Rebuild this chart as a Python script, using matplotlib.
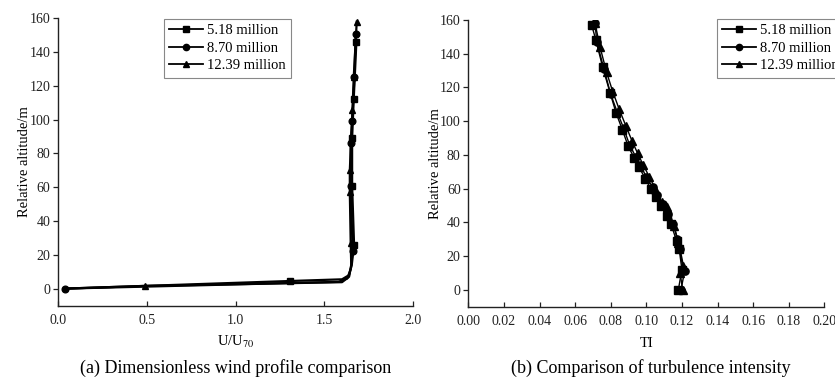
import matplotlib
matplotlib.use("Agg")
import matplotlib.pyplot as plt

plt.rcParams['font.family'] = ['Liberation Serif', 'DejaVu Serif']
plt.rcParams['mathtext.fontset'] = 'stix'

series_names = ["5.18 million", "8.70 million", "12.39 million"]
markers = ["s", "o", "^"]

# (a) Dimensionless wind profile: U/U70 vs relative altitude
u_sq = [0.04, 1.306, 1.60, 1.64, 1.655, 1.668, 1.657, 1.657, 1.666, 1.681]
z_sq = [0, 4.5, 5.5, 8, 14, 26, 61, 89, 112, 146]
mk_sq = [1, 5, 6, 7, 8, 9]

u_ci = [0.041, 1.58, 1.63, 1.65, 1.660, 1.649, 1.649, 1.657, 1.670, 1.677]
z_ci = [0, 4.0, 6, 12, 22, 61, 86, 99, 125, 151]
mk_ci = [0, 4, 5, 6, 7, 8, 9]

u_tr = [0.04, 0.49, 1.60, 1.64, 1.652, 1.649, 1.644, 1.644, 1.659, 1.666, 1.683]
z_tr = [0, 1.6, 3.8, 7, 14, 27, 57, 70, 106, 125, 158]
mk_tr = [1, 5, 6, 7, 8, 9, 10]

# (b) Turbulence intensity vs relative altitude
ti_sq = [0.0693, 0.0717, 0.0755, 0.0796, 0.0830, 0.0865, 0.0899, 0.0933, 0.0959, 0.0993,
         0.1026, 0.1052, 0.1082, 0.1114, 0.1139, 0.1170, 0.1185, 0.1200, 0.1180]
tz_sq = [157, 148, 132, 117, 105, 95, 85, 78, 73, 66, 60, 55, 50, 44, 39, 29, 24, 12, 0]

ti_ci = [0.0712, 0.0722, 0.0762, 0.0800, 0.0838, 0.0872, 0.0906, 0.0940, 0.0966, 0.1000,
         0.1035, 0.1062, 0.1092, 0.1124, 0.1150, 0.1175, 0.1190, 0.1215, 0.1195]
tz_ci = [158, 147, 131, 116, 105, 96, 86, 79, 74, 67, 61, 56, 51, 45, 39, 30, 24, 11, 0]

ti_tr = [0.0712, 0.0740, 0.0777, 0.0810, 0.0848, 0.0886, 0.0921, 0.0951, 0.0983, 0.1017,
         0.1050, 0.1086, 0.1118, 0.1157, 0.1180, 0.1204, 0.1190, 0.1204]
tz_tr = [158, 144, 129, 118, 107, 97, 88, 81, 74, 67, 60, 52, 49, 38, 28, 14, 10, 0]

fig = plt.figure(figsize=(8.35, 3.81), dpi=100)
W, H = 835, 381

def make_ax(l, r, t, b):
    return fig.add_axes([l / W, 1 - b / H, (r - l) / W, (b - t) / H])

ax1 = make_ax(58, 413, 18.3, 305.5)
ax2 = make_ax(468.3, 824.3, 20, 306.7)

tick_fs = 10
lab_fs = 10.5
leg_fs = 10.5
cap_fs = 13

for ax in (ax1, ax2):
    for s in ("top", "right"):
        ax.spines[s].set_visible(False)
    for s in ("left", "bottom"):
        ax.spines[s].set_linewidth(1.0)
        ax.spines[s].set_color("#222222")
    ax.tick_params(axis="y", direction="out", length=3.5, width=0.9, labelsize=tick_fs, colors="#222222", pad=2)
    ax.tick_params(axis="x", direction="in", length=3.5, width=0.9, labelsize=tick_fs, colors="#222222", pad=6)
    ax.set_ylim(-10, 160)
    ax.set_yticks(range(0, 161, 20))
    ax.set_ylabel("Relative altitude/m", fontsize=lab_fs)

lw = 1.6
ms = 4.8
data1 = [(u_sq, z_sq, mk_sq), (u_ci, z_ci, mk_ci), (u_tr, z_tr, mk_tr)]
for (u, z, mk), m, name in zip(data1, markers, series_names):
    ax1.plot(u, z, color="black", lw=lw, marker=m, markevery=mk, ms=ms, label=name)
ax1.set_xlim(0, 2.0)
ax1.set_xticks([0.0, 0.5, 1.0, 1.5, 2.0])
ax1.set_xticklabels(["0.0", "0.5", "1.0", "1.5", "2.0"])
ax1.set_xlabel(r"U/U$_{70}$", fontsize=lab_fs)

data2 = [(ti_sq, tz_sq), (ti_ci, tz_ci), (ti_tr, tz_tr)]
for (t, z), m, name in zip(data2, markers, series_names):
    ax2.plot(t, z, color="black", lw=1.0, marker=m, ms=5.2, label=name)
ax2.set_xlim(0, 0.20)
ax2.set_xticks([0.00, 0.02, 0.04, 0.06, 0.08, 0.10, 0.12, 0.14, 0.16, 0.18, 0.20])
ax2.set_xticklabels(["0.00", "0.02", "0.04", "0.06", "0.08", "0.10", "0.12", "0.14", "0.16", "0.18", "0.20"])
ax2.set_xlabel("TI", fontsize=lab_fs)

ax1.yaxis.set_label_coords(-0.075, 0.5)
ax2.yaxis.set_label_coords(-0.075, 0.5)
ax1.xaxis.set_label_coords(0.5, -0.10)
ax2.xaxis.set_label_coords(0.5, -0.105)

leg_kw = dict(fontsize=leg_fs, frameon=True, fancybox=False, edgecolor="#888888",
              handlelength=2.3, handletextpad=0.3, borderpad=0.35, labelspacing=0.3,
              borderaxespad=0, framealpha=1)
l1 = ax1.legend(loc="upper left", bbox_to_anchor=(164 / W, 1 - 19 / H),
                bbox_transform=fig.transFigure, **leg_kw)
l2 = ax2.legend(loc="upper left", bbox_to_anchor=(717 / W, 1 - 19 / H),
                bbox_transform=fig.transFigure, **leg_kw)
for l in (l1, l2):
    l.get_frame().set_linewidth(0.8)
    for ln in l.get_lines():
        ln.set_linewidth(1.3)
        ln.set_markersize(4.5)

fig.text(235.5 / W, 1 - 368 / H, "(a) Dimensionless wind profile comparison",
         ha="center", va="center", fontsize=cap_fs)
fig.text(651 / W, 1 - 368 / H, "(b) Comparison of turbulence intensity",
         ha="center", va="center", fontsize=cap_fs)

fig.savefig("out.png", dpi=100)
